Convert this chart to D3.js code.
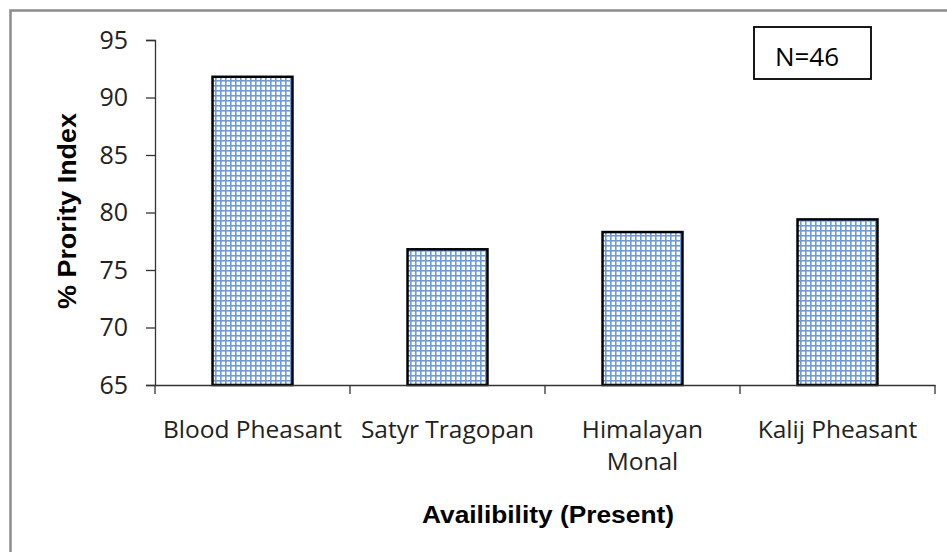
<!DOCTYPE html>
<html><head><meta charset="utf-8">
<script src="https://cdn.jsdelivr.net/npm/d3@7"></script>
<style>html,body{margin:0;padding:0;background:#fff;}svg{display:block;}</style>
</head><body>
<svg id="chart" width="947" height="552"></svg>
<script>
const categories = [["Blood Pheasant"], ["Satyr Tragopan"], ["Himalayan", "Monal"], ["Kalij Pheasant"]];
const values = [91.8, 76.8, 78.3, 79.4];
const yTicks = [65, 70, 75, 80, 85, 90, 95];
const yTitle = "% Prority Index";
const xTitle = "Availibility (Present)";
const noteText = "N=46";

(function() {
const svg = d3.select("#chart");
const defs = svg.append("defs");
const pat = defs.append("pattern").attr("id", "grid").attr("patternUnits", "userSpaceOnUse")
  .attr("width", 5).attr("height", 5);
pat.append("rect").attr("width", 5).attr("height", 5).attr("fill", "#ffffff");
pat.append("rect").attr("x", 0).attr("y", 0).attr("width", 1.6).attr("height", 5).attr("fill", "#6e9ad8");
pat.append("rect").attr("x", 0).attr("y", 0).attr("width", 5).attr("height", 1.6).attr("fill", "#6e9ad8");

// outer chart border
svg.append("rect").attr("x", 10.5).attr("y", 10.5).attr("width", 960).attr("height", 600)
  .attr("fill", "none").attr("stroke", "#8c8c8c").attr("stroke-width", 2.5);

const pLeft = 155, pRight = 935, pTop = 40, pBottom = 385;
const names = categories.map(c => c.join(" "));
const x = d3.scaleBand().domain(names).range([pLeft, pRight]).padding(0);
const y = d3.scaleLinear().domain([65, 95]).range([pBottom, pTop]);
const barW = x.bandwidth() * 0.41;

// bars
svg.append("g").selectAll("rect").data(values).join("rect")
  .attr("x", (d, i) => x(names[i]) + x.bandwidth() / 2 - barW / 2)
  .attr("y", d => y(d))
  .attr("width", barW)
  .attr("height", d => y(65) - y(d))
  .attr("fill", "url(#grid)")
  .attr("stroke", "#000").attr("stroke-width", 2.5);

// y axis
const yAxis = svg.append("g").attr("transform", `translate(${pLeft},0)`)
  .call(d3.axisLeft(y).tickValues(yTicks).tickSize(9).tickPadding(18).tickFormat(d3.format("d")));
yAxis.select(".domain").attr("stroke", "#333").attr("stroke-width", 1.3);
yAxis.selectAll(".tick line").attr("stroke", "#333").attr("stroke-width", 1.3);
yAxis.selectAll(".tick text").attr("font-family", "'Open Sans', sans-serif").attr("font-size", 25)
  .attr("fill", "#222");

// x axis
const xAxis = svg.append("g").attr("transform", `translate(0,${pBottom})`)
  .call(d3.axisBottom(x).tickSize(0).tickFormat(""));
xAxis.select(".domain").attr("stroke", "#333").attr("stroke-width", 1.3);
const boundaries = names.map(n => x(n)).concat([pRight]);
svg.append("g").selectAll("line").data(boundaries).join("line")
  .attr("x1", d => d).attr("x2", d => d).attr("y1", pBottom).attr("y2", pBottom + 9)
  .attr("stroke", "#333").attr("stroke-width", 1.3);

// category labels
const labels = svg.append("g").selectAll("text").data(categories).join("text")
  .attr("x", (d, i) => x(names[i]) + x.bandwidth() / 2)
  .attr("y", 438)
  .attr("text-anchor", "middle")
  .attr("font-family", "'Open Sans', sans-serif").attr("font-size", 24.5).attr("fill", "#222");
labels.each(function(d, i) {
  const t = d3.select(this);
  d.forEach((line, k) => {
    t.append("tspan").attr("x", x(names[i]) + x.bandwidth() / 2).attr("dy", k === 0 ? 0 : 32).text(line);
  });
});

// axis titles
svg.append("text").attr("x", 548).attr("y", 523).attr("text-anchor", "middle")
  .attr("font-family", "'Liberation Sans', Arial, sans-serif").attr("font-weight", "bold")
  .attr("font-size", 24.5).attr("textLength", 252).attr("lengthAdjust", "spacingAndGlyphs")
  .attr("fill", "#000").text(xTitle);
svg.append("text").attr("transform", "translate(76,211) rotate(-90)").attr("text-anchor", "middle")
  .attr("font-family", "'Liberation Sans', Arial, sans-serif").attr("font-weight", "bold")
  .attr("font-size", 25.5).attr("textLength", 196).attr("lengthAdjust", "spacingAndGlyphs")
  .attr("fill", "#000").text(yTitle);

// note box
svg.append("rect").attr("x", 754).attr("y", 27).attr("width", 117).attr("height", 52)
  .attr("fill", "#fff").attr("stroke", "#000").attr("stroke-width", 1.8);
svg.append("text").attr("x", 807).attr("y", 66).attr("text-anchor", "middle")
  .attr("font-family", "'Open Sans', sans-serif").attr("font-size", 26).attr("fill", "#000").text(noteText);
})();
</script>
</body></html>
